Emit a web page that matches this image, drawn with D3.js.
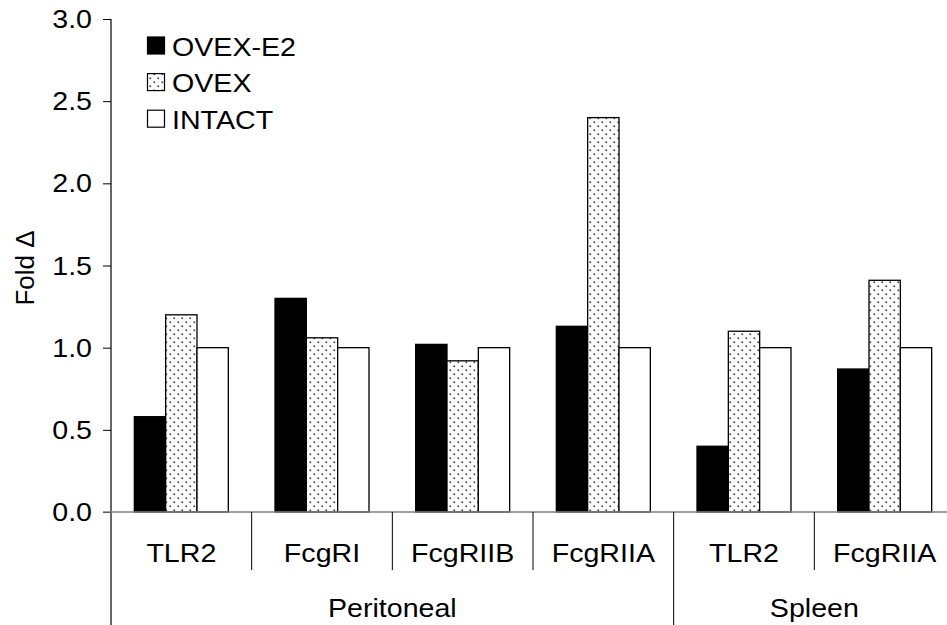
<!DOCTYPE html>
<html><head><meta charset="utf-8">
<script src="https://cdn.jsdelivr.net/npm/d3@7/dist/d3.min.js"></script>
<style>body{margin:0;background:#fff}svg{display:block}text{font-family:"Liberation Sans",Arial,sans-serif;fill:#000}</style>
</head><body><svg id="c" width="947" height="625"></svg>
<script>
const categories = ["TLR2","FcgRI","FcgRIIB","FcgRIIA","TLR2","FcgRIIA"];
const groups = [{name:"Peritoneal", start:0, end:4},{name:"Spleen", start:4, end:6}];
const seriesNames = ["OVEX-E2","OVEX","INTACT"];
const ovexE2 = [0.58,1.30,1.02,1.13,0.40,0.87];
const ovex   = [1.20,1.06,0.92,2.40,1.10,1.41];
const intact = [1.00,1.00,1.00,1.00,1.00,1.00];
const yTicks = [0,0.5,1.0,1.5,2.0,2.5,3.0];

const FS = 26, SX = 1.1;
const svg = d3.select("#c");
const defs = svg.append("defs");
const pat = defs.append("pattern").attr("id","dots").attr("patternUnits","userSpaceOnUse")
  .attr("width",8).attr("height",8);
pat.append("rect").attr("width",8).attr("height",8).attr("fill","#fff");
pat.append("rect").attr("x",1.5).attr("y",1.5).attr("width",1.6).attr("height",1.6).attr("fill","#333");
pat.append("rect").attr("x",5.5).attr("y",5.5).attr("width",1.6).attr("height",1.6).attr("fill","#333");

const fills = ["#000","url(#dots)","#fff"];
const values = [ovexE2, ovex, intact];

function label(px, py, str, anchor, rot){
  return svg.append("text")
    .attr("transform", `translate(${px},${py})` + (rot?` rotate(${rot})`:"") + ` scale(${SX},1)`)
    .attr("text-anchor", anchor||"start").attr("font-size",FS).text(str);
}

const x0 = 111, x1 = 955, yTop = 19, yBase = 512;
const idx = categories.map((d,i)=>i);
const x = d3.scaleBand().domain(idx).range([x0,x1]).paddingInner(0).paddingOuter(0);
const xs = d3.scaleBand().domain(d3.range(3)).range([0,x.bandwidth()]).paddingInner(0).paddingOuter(0.745);
const y = d3.scaleLinear().domain([0,3]).range([yBase,yTop]);

// bars
idx.forEach(i=>{
  values.forEach((arr,s)=>{
    svg.append("rect")
      .attr("x", x(i)+xs(s)).attr("y", y(arr[i]))
      .attr("width", xs.bandwidth()).attr("height", y(0)-y(arr[i]))
      .attr("fill", fills[s]).attr("stroke","#000").attr("stroke-width",1.3);
  });
});

// y axis
const yAxis = d3.axisLeft(y).tickValues(yTicks).tickFormat(d3.format(".1f")).tickSize(8).tickPadding(11);
const ga = svg.append("g").attr("transform",`translate(${x0},0)`).call(yAxis);
ga.select(".domain").remove();
ga.selectAll(".tick line").attr("stroke","#000");
ga.selectAll(".tick text").attr("font-size",FS).attr("font-family",'"Liberation Sans",Arial,sans-serif')
  .attr("x",0).attr("dy","0.33em").attr("transform",`translate(-19,0) scale(${SX},1)`);
svg.append("line").attr("x1",x0).attr("x2",x0).attr("y1",yTop).attr("y2",625).attr("stroke","#000").attr("stroke-width",1.2);

// baseline
svg.append("line").attr("x1",x0-8).attr("x2",947).attr("y1",yBase).attr("y2",yBase).attr("stroke","#808080").attr("stroke-width",1.5);

// category separators
idx.slice(1).forEach(i=>{
  const isGroup = groups.some(g=>g.start===i);
  svg.append("line").attr("x1",x(i)).attr("x2",x(i)).attr("y1",yBase).attr("y2",isGroup?625:570)
    .attr("stroke","#000").attr("stroke-width",1);
});

// category labels
idx.forEach(i=>{ label(x(i)+x.bandwidth()/2, 562, categories[i], "middle"); });
// group labels
groups.forEach(g=>{
  const cx = (x(g.start) + x(g.end-1)+x.bandwidth())/2;
  label(cx, 617, g.name, "middle");
});

// y label
svg.append("text").attr("transform","translate(34,268) rotate(-90)").attr("text-anchor","middle")
  .attr("font-size",FS).text("Fold Δ");

// legend
seriesNames.forEach((n,s)=>{
  const yy = 37 + s*36.6;
  svg.append("rect").attr("x",147.5).attr("y",yy).attr("width",17).attr("height",17)
    .attr("fill",fills[s]).attr("stroke","#000").attr("stroke-width",1.2);
  label(172, yy+18.5, n, "start");
});
</script></body></html>
